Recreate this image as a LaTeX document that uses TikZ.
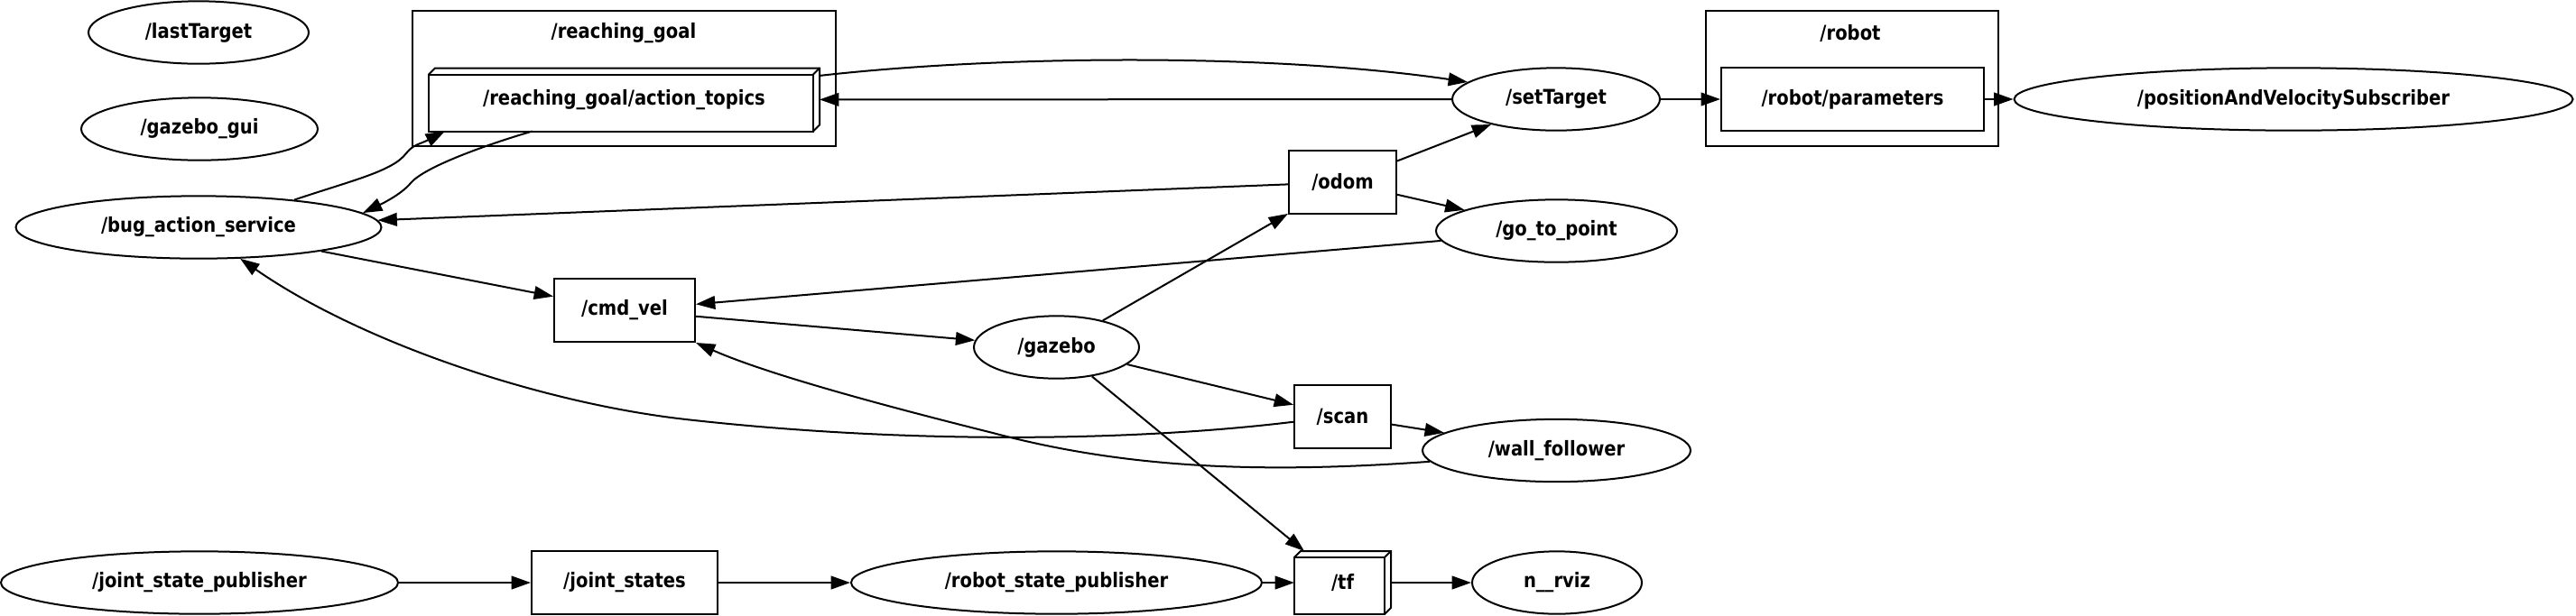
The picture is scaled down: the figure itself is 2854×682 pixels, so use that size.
\documentclass[tikz,border=0pt]{standalone}
\usepackage{fontspec}
\newfontfamily\rosfont{DejaVu Sans}[FakeStretch=0.87]
\usetikzlibrary{shapes.geometric, arrows.meta, calc}

\tikzset{
    rosnode/.style={ellipse, draw, inner sep=0pt, minimum height=20.8pt},
    topic/.style={rectangle, draw, inner sep=0pt, minimum height=21pt},
    topicbox/.style={rectangle, inner sep=0pt, outer sep=0pt, minimum height=21pt},
    cluster/.style={rectangle, draw, inner sep=0pt, minimum height=45pt},
    link/.style={-{Triangle[length=6.4pt, width=4.4pt]}}
}

\begin{document}
\begin{tikzpicture}[x=0.3pt, y=-0.3pt, line width=0.6pt,
    font=\rosfont\bfseries\fontsize{6.75pt}{8pt}\selectfont]

    \useasboundingbox (0,0) rectangle (2854,682);

    % Clusters
    \node[cluster, minimum width=140.7pt] (goalGroup) at (691.5,87) {};
    \node (goalLabel) at (691,37) {/reaching\_goal};
    \node[cluster, minimum width=97.2pt] (robotGroup) at (2052,87) {};
    \node (robotLabel) at (2050,37) {/robot};

    % Nodes
    \node[rosnode, minimum width=73.2pt] (lastTarget) at (220,36) {/lastTarget};
    \node[rosnode, minimum width=78.6pt] (gazeboGui) at (221,143) {/gazebo\_gui};
    \node[rosnode, minimum width=121.5pt] (bugAction) at (220,252) {/bug\_action\_service};
    \node[rosnode, minimum width=69pt] (setTarget) at (1724,110) {/setTarget};
    \node[rosnode, minimum width=185.7pt] (posVelSub) at (2541,110) {/positionAndVelocitySubscriber};
    \node[rosnode, minimum width=80.1pt] (goToPoint) at (1724.5,256) {/go\_to\_point};
    \node[rosnode, minimum width=54.9pt] (gazebo) at (1170.5,385) {/gazebo};
    \node[rosnode, minimum width=89.1pt] (wallFollower) at (1724.5,499.5) {/wall\_follower};
    \node[rosnode, minimum width=132pt] (jointPub) at (221,646) {/joint\_state\_publisher};
    \node[rosnode, minimum width=136.5pt] (statePub) at (1170.5,646) {/robot\_state\_publisher};
    \node[rosnode, minimum width=56.4pt] (rviz) at (1725,646) {n\_\_rviz};

    % Topics
    \node[topic, minimum width=87.3pt] (robotParams) at (2052.5,110) {/robot/parameters};
    \node[topic, minimum width=35.7pt] (odom) at (1487.5,202) {/odom};
    \node[topic, minimum width=46.8pt] (cmdVel) at (692,344) {/cmd\_vel};
    \node[topic, minimum width=32.1pt] (scan) at (1487.5,462) {/scan};
    \node[topic, minimum width=61.8pt] (jointStates) at (692,646) {/joint\_states};
    \node[topicbox, minimum width=129.9pt] (actionTopics) at (691.5,110.5) {/reaching\_goal/action\_topics};
    \node[topicbox, minimum width=32.1pt] (tf) at (1487.5,646) {/tf};

    % 3d boxes
    \foreach \b in {actionTopics, tf} {
        \draw (\b.south west) rectangle ($(\b.north east)+(-7,7)$);
        \draw ($(\b.north west)+(0,7)$) -- ($(\b.north west)+(7,0)$) -- (\b.north east)
            -- ($(\b.south east)+(0,-7)$) -- ($(\b.south east)+(-7,0)$);
        \draw ($(\b.north east)+(-7,7)$) -- (\b.north east);
    }

    % Straight edges
    \foreach \a/\c in {odom/bugAction, bugAction/cmdVel, goToPoint/cmdVel, cmdVel/gazebo,
        gazebo/odom, gazebo/scan, gazebo/tf, odom/setTarget, odom/goToPoint,
        setTarget/actionTopics, setTarget/robotParams, robotParams/posVelSub,
        scan/wallFollower, jointPub/jointStates, jointStates/statePub, statePub/tf, tf/rviz} {
        \draw[link] (\a) -- (\c);
    }

    % Curved edges
    \draw[link] (bugAction.16) .. controls (390,200) and (435,190) .. (450,170)
        .. controls (458,160) and (465,160) .. (actionTopics.190);
    \draw[link] (actionTopics.199) .. controls (540,160) and (470,185) .. (455,203)
        .. controls (445,215) and (425,225) .. (bugAction.5);
    \draw[link] (actionTopics.7) .. controls (1100,62) and (1400,58) .. (setTarget.169);
    \draw[link] (scan.186) .. controls (1250,490) and (1000,492) .. (760,465)
        .. controls (600,447) and (400,380) .. (bugAction.323);
    \draw[link] (wallFollower.185) .. controls (1400,525) and (1250,520) .. (1100,480)
        .. controls (980,450) and (850,415) .. (cmdVel.south east);

\end{tikzpicture}
\end{document}
